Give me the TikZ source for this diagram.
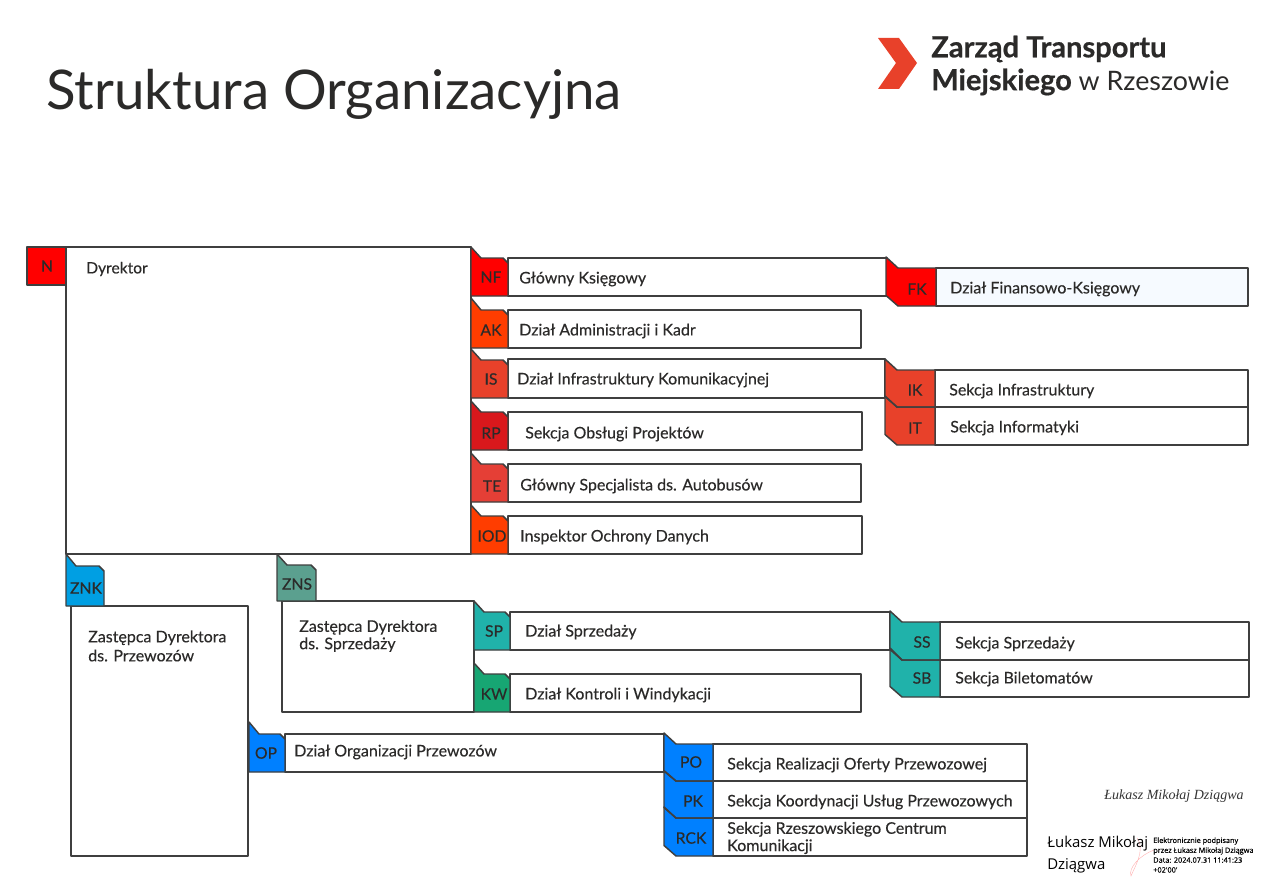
\documentclass[tikz,border=0pt]{standalone}
\usepackage{fontspec}
\setmainfont{Lato}[FakeBold=0.25]
\newfontfamily\titlefont{Lato}
\newfontfamily\logofont{Lato}
\newfontfamily\logoheavy{Lato Bold}[FakeBold=0.6]
\newfontfamily\sigfont{Open Sans}
\newfontfamily\sigheavy{Open Sans}[FakeBold=0.25]
\newfontfamily\scriptish{Liberation Serif Italic}
\definecolor{edgec}{HTML}{3F3F3F}
\definecolor{txtc}{HTML}{2B2A29}
\definecolor{cred}{HTML}{FF0000}
\definecolor{corange}{HTML}{FF3D00}
\definecolor{cbrick}{HTML}{E8412A}
\definecolor{crp}{HTML}{D9181C}
\definecolor{cte}{HTML}{E53F36}
\definecolor{cznk}{HTML}{009FE3}
\definecolor{czns}{HTML}{5BA08F}
\definecolor{cteal}{HTML}{20B2AA}
\definecolor{cgreen}{HTML}{17A673}
\definecolor{cblue}{HTML}{0080FF}
\definecolor{cpale}{HTML}{F6FAFF}
\tikzset{
  x=0.75pt,y=-0.75pt,
  shp/.style={draw=edgec,line width=1.1pt,line join=round},
  whitebox/.style={shp,fill=white},
  lbl/.style={font=\fontsize{12}{13}\selectfont,text=txtc,anchor=west,inner sep=0pt,align=left},
  code/.style={font=\fontsize{11.8}{13}\selectfont,text=txtc,anchor=center,inner sep=0pt},
}
\newcommand{\fold}[6]{% colour, xl, yt, xr, yb, yboxtop : folded tab
  \draw[shp,fill=#1] (#2,#3) -- ({#2+10},#6) -- ({#4-5},#6) -- (#4,{#6+5}) -- (#4,#5) -- (#2,#5) -- cycle;}
\newcommand{\flap}[6]{% colour, xl, yt, xr, yb, yboxtop : flap with lower chamfer
  \draw[shp,fill=#1] (#2,#3) -- ({#2+12},#6) -- (#4,#6) -- (#4,#5) -- ({#2+12},#5) -- (#2,{#5-10.5}) -- cycle;}
\begin{document}
\begin{tikzpicture}
\useasboundingbox (0,0) rectangle (1278,895);
\fill[white] (0,0) rectangle (1278,895);

\node[anchor=west,inner sep=0pt,text=txtc,font=\titlefont\fontsize{41}{43}\selectfont] (title) at (46,94) {Struktura Organizacyjna};

% logo
\fill[cbrick] (878,38) -- (899,38) -- (917,63) -- (899,89) -- (878,89) -- (896,63) -- cycle;
\node[anchor=west,inner sep=0pt,text=txtc,font=\logoheavy\fontsize{21.8}{24}\selectfont] (logo1) at (931,49) {Zarząd Transportu};
\node[anchor=west,inner sep=0pt,text=txtc,font=\logofont\fontsize{20.1}{24}\selectfont] (logo2) at (931,82) {{\logoheavy\fontsize{21.8}{24}\selectfont Miejskiego} w Rzeszowie};

% Dyrektor
\draw[whitebox] (66,247) rectangle (471,554);
\draw[shp,fill=cred] (27,247) rectangle (66,285);
\node[code] (N) at (47,266) {N};
\node[lbl,font=\fontsize{11.7}{13}\selectfont] (dyr) at (86,269) {Dyrektor};

% right column, boxes first
\draw[whitebox] (508,258) rectangle (887,296);
\draw[whitebox] (508,310) rectangle (861,348);
\draw[whitebox] (508,359) rectangle (885,398);
\draw[whitebox] (508,412) rectangle (862,450);
\draw[whitebox] (508,464) rectangle (861,502);
\draw[whitebox] (508,516) rectangle (862,554);
\fold{cred}{471}{247}{508}{296}{258}
\fold{corange}{471}{298}{508}{348}{310}
\fold{cbrick}{471}{349}{508}{398}{360}
\fold{crp}{471}{401}{508}{450}{412}
\fold{cte}{471}{453}{508}{502}{464}
\fold{corange}{471}{505}{508}{554}{516}
\node[code] (NF) at (491,277) {NF};
\node[code] (AK) at (491,330) {AK};
\node[code] (IS) at (491,379) {IS};
\node[code] (RP) at (491,433) {RP};
\node[code] (TE) at (492,486) {TE};
\node[code] (IOD) at (492,536) {IOD};
\node[lbl] (tNF) at (519,279) {Główny Księgowy};
\node[lbl] (tAK) at (519,331) {Dział Administracji i Kadr};
\node[lbl] (tIS) at (517,380) {Dział Infrastruktury Komunikacyjnej};
\node[lbl] (tRP) at (525,434) {Sekcja Obsługi Projektów};
\node[lbl] (tTE) at (520,486) {Główny Specjalista ds. Autobusów};
\node[lbl] (tIOD) at (520,537) {Inspektor Ochrony Danych};

% FK
\draw[shp,fill=cpale] (936,268) rectangle (1248,306);
\flap{cred}{886}{257}{936}{306}{268}
\node[code] (FK) at (917,289) {FK};
\node[lbl] (tFK) at (950,289) {Dział Finansowo-Księgowy};

% IK / IT
\draw[whitebox] (935,370) rectangle (1248,407);
\draw[whitebox] (935,407) rectangle (1248,445);
\flap{cbrick}{885}{396}{935}{445}{407}
\flap{cbrick}{885}{359}{935}{407}{370}
\draw[shp] (885,396) -- (897,407) -- (935,407);
\node[code] (IK) at (915,390) {IK};
\node[code] (IT) at (915,428) {IT};
\node[lbl] (tIK) at (949,391) {Sekcja Infrastruktury};
\node[lbl] (tIT) at (950,428) {Sekcja Informatyki};

% ZNK
\draw[whitebox] (71,606) rectangle (248,856);
\fold{cznk}{66}{554}{104}{606}{566}
\node[code] (ZNK) at (86,588) {ZNK};
\node[lbl,font=\fontsize{12}{14.3}\selectfont] (tZNK) at (88,646) {Zastępca Dyrektora\\ds. Przewozów};

% ZNS
\draw[whitebox] (282,601) rectangle (474,712);
\fold{czns}{277}{554}{316}{601}{565}
\node[code] (ZNS) at (297,584) {ZNS};
\node[lbl] (tZNS) at (299,636) {Zastępca Dyrektora\\ds. Sprzedaży};

% SP / KW
\draw[whitebox] (510,612) rectangle (890,650);
\draw[whitebox] (510,674) rectangle (861,712);
\fold{cteal}{474}{601}{510}{650}{612}
\draw[shp,fill=cgreen] (474,663) -- (484,674) -- (505,674) -- (510,679) -- (510,712) -- (474,712) -- cycle;
\node[code] (SP) at (494,631) {SP};
\node[code] (KW) at (494,694) {KW};
\node[lbl] (tSP) at (525,632) {Dział Sprzedaży};
\node[lbl] (tKW) at (525,695) {Dział Kontroli i Windykacji};

% SS / SB
\draw[whitebox] (940,622) rectangle (1249,660);
\draw[whitebox] (940,660) rectangle (1249,697);
\flap{cteal}{890}{648}{940}{697}{660}
\flap{cteal}{890}{611}{940}{660}{622}
\draw[shp] (890,648) -- (902,660) -- (940,660);
\node[code] (SS) at (922,642) {SS};
\node[code] (SB) at (922,678) {SB};
\node[lbl] (tSS) at (955,644) {Sekcja Sprzedaży};
\node[lbl] (tSB) at (955,679) {Sekcja Biletomatów};

% OP
\draw[whitebox] (285,734) rectangle (664,772);
\fold{cblue}{249}{722}{285}{772}{734}
\node[code] (OP) at (266,753) {OP};
\node[lbl] (tOP) at (294,752) {Dział Organizacji Przewozów};

% PO / PK / RCK
\draw[whitebox] (713,744) rectangle (1027,781);
\draw[whitebox] (713,781) rectangle (1027,818);
\draw[whitebox] (713,818) rectangle (1027,856);
\flap{cblue}{664}{807}{713}{856}{818}
\flap{cblue}{664}{771}{713}{818}{781}
\flap{cblue}{664}{733}{713}{781}{744}
\draw[shp] (664,771) -- (676,781) -- (713,781);
\draw[shp] (664,807) -- (676,818) -- (713,818);
\node[code] (PO) at (691,762) {PO};
\node[code] (PK) at (693,801) {PK};
\node[code] (RCK) at (691,838) {RCK};
\node[lbl] (tPO) at (727,765) {Sekcja Realizacji Oferty Przewozowej};
\node[lbl] (tPK) at (727,802) {Sekcja Koordynacji Usług Przewozowych};
\node[lbl] (tRCK) at (727,838) {Sekcja Rzeszowskiego Centrum\\Komunikacji};

% signature
\draw[red!30,line width=0.3pt] (1137,838) .. controls (1146,850) and (1134,868) .. (1131,876) .. controls (1128,868) and (1140,855) .. (1154,850);
\node[anchor=center,inner sep=0pt,text=black!80,font=\scriptish\fontsize{10.5}{12}\selectfont] (sigscript) at (1174,796) {Łukasz Mikołaj Dziągwa};
\node[anchor=west,inner sep=0pt,text=black,align=left,font=\sigfont\fontsize{11.2}{16.5}\selectfont] (signame) at (1047,855) {Łukasz Mikołaj\\Dziągwa};
\node[anchor=west,inner sep=0pt,text=black,align=left,font=\sigheavy\fontsize{5.5}{7.4}\selectfont] (sigdata) at (1153,855) {Elektronicznie podpisany\\przez Łukasz Mikołaj Dziągwa\\Data: 2024.07.31 11:41:23\\+02'00'};
\end{tikzpicture}
\end{document}
